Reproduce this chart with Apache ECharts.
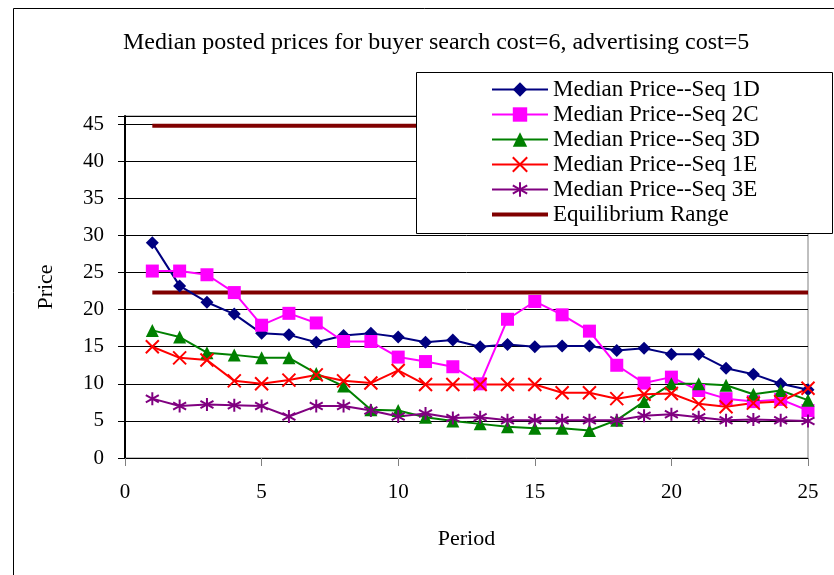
<!DOCTYPE html>
<html>
<head>
<meta charset="utf-8">
<script src="https://cdn.jsdelivr.net/npm/echarts@6/dist/echarts.min.js"></script>
<style>
  html, body { margin: 0; padding: 0; background: #fff; }
  #chart { width: 834px; height: 575px; }
</style>
</head>
<body>
<div id="chart"></div>
<script>
var periods = [1, 2, 3, 4, 5, 6, 7, 8, 9, 10, 11, 12, 13, 14, 15, 16, 17, 18, 19, 20, 21, 22, 23, 24, 25];
var seq1D = [29.0, 23.2, 21.0, 19.4, 16.8, 16.6, 15.6, 16.5, 16.8, 16.3, 15.6, 15.9, 15.0, 15.3, 15.0, 15.1, 15.1, 14.5, 14.8, 14.0, 14.0, 12.1, 11.3, 10.0, 9.2];
var seq2C = [25.2, 25.2, 24.7, 22.3, 17.9, 19.5, 18.2, 15.7, 15.7, 13.6, 13.0, 12.3, 10.0, 18.7, 21.1, 19.3, 17.1, 12.5, 10.1, 10.9, 9.1, 8.0, 7.6, 7.9, 6.4];
var seq3D = [17.2, 16.3, 14.2, 13.9, 13.5, 13.5, 11.4, 9.7, 6.5, 6.4, 5.5, 5.0, 4.6, 4.2, 4.0, 4.0, 3.7, 5.1, 7.6, 10.0, 10.0, 9.8, 8.6, 9.1, 7.8];
var seq1E = [15.0, 13.5, 13.2, 10.4, 10.0, 10.5, 11.2, 10.4, 10.1, 11.8, 9.9, 9.9, 9.9, 9.9, 9.9, 8.8, 8.8, 8.0, 8.6, 8.7, 7.3, 6.9, 7.4, 7.6, 9.4];
var seq3E = [8.0, 7.0, 7.2, 7.1, 7.0, 5.6, 7.0, 7.0, 6.4, 5.6, 6.0, 5.4, 5.5, 5.1, 5.1, 5.1, 5.1, 5.1, 5.7, 5.9, 5.5, 5.1, 5.2, 5.1, 5.0];
var eqPeriods = [1, 25];
var eqUpper = [44.8, 44.8];
var eqLower = [22.3, 22.3];
var yTicks = [0, 5, 10, 15, 20, 25, 30, 35, 40, 45];

var font = "'Liberation Serif', 'Times New Roman', serif";

function pairs(xs, ys) {
  return xs.map(function (x, i) { return [x, ys[i]]; });
}

var crossSym = 'path://M0,0L10,10M10,0L0,10';
var starSym = 'path://M5,0L5,10M0.6,2.2L9.4,7.8M0.6,7.8L9.4,2.2';

function priceSeries(name, values, color, symbol, filled) {
  return {
    name: name,
    type: 'line',
    data: pairs(periods, values),
    symbol: symbol,
    symbolSize: 13,
    showAllSymbol: true,
    lineStyle: { color: color, width: 2 },
    itemStyle: filled
      ? { color: color, borderWidth: 0 }
      : { color: 'rgba(0,0,0,0)', borderColor: color, borderWidth: 2 },
    emphasis: { disabled: true },
    z: 3
  };
}

function eqSeries(values) {
  return {
    name: 'Equilibrium Range',
    type: 'line',
    data: pairs(eqPeriods, values),
    showSymbol: false,
    symbol: 'none',
    lineStyle: { color: '#800000', width: 4 },
    itemStyle: { color: '#800000' },
    emphasis: { disabled: true },
    z: 2
  };
}

var myChart = echarts.init(document.getElementById('chart'));

var option = {
  animation: false,
  backgroundColor: '#fff',
  textStyle: { fontFamily: font, color: '#000' },
  title: {
    text: 'Median posted prices for buyer search cost=6, advertising cost=5',
    left: 118,
    top: 26,
    textStyle: { fontFamily: font, fontSize: 24, fontWeight: 'normal', color: '#000' }
  },
  graphic: [
    {
      type: 'rect',
      shape: { x: 13.5, y: 8.5, width: 900, height: 700 },
      style: { fill: 'none', stroke: '#000', lineWidth: 1 },
      z: 0
    },
    {
      type: 'rect',
      shape: { x: 416.5, y: 72.5, width: 416, height: 161 },
      style: { fill: '#fff', stroke: '#000', lineWidth: 1 },
      z: 10
    }
  ],
  legend: {
    orient: 'vertical',
    left: 491,
    top: 78,
    padding: 0,
    itemWidth: 56,
    itemHeight: 18,
    itemGap: 2,
    z: 20,
    selectedMode: false,
    textStyle: { fontFamily: font, fontSize: 23, color: '#000' },
    data: [
      'Median Price--Seq 1D',
      'Median Price--Seq 2C',
      'Median Price--Seq 3D',
      'Median Price--Seq 1E',
      'Median Price--Seq 3E',
      { name: 'Equilibrium Range', icon: 'path://M0,0L56,0L56,4L0,4Z' }
    ]
  },
  grid: {
    left: 125,
    right: 26,
    top: 116,
    bottom: 117,
    show: true,
    borderColor: '#808080',
    borderWidth: 1,
    backgroundColor: 'transparent'
  },
  xAxis: {
    type: 'value',
    min: 0,
    max: 25,
    interval: 5,
    name: 'Period',
    nameLocation: 'middle',
    nameGap: 70,
    nameTextStyle: { fontFamily: font, fontSize: 22, color: '#000' },
    axisLine: { show: true, onZero: false, lineStyle: { color: '#000', width: 1 } },
    axisTick: { show: true, inside: false, length: 8, lineStyle: { color: '#808080', width: 1 } },
    axisLabel: { margin: 24, fontFamily: font, fontSize: 21, color: '#000' },
    splitLine: { show: false }
  },
  yAxis: {
    type: 'value',
    min: 0,
    max: 46.1,
    interval: 5,
    name: 'Price',
    nameLocation: 'middle',
    nameGap: 68,
    nameTextStyle: { fontFamily: font, fontSize: 22, color: '#000' },
    axisLine: { show: true, onZero: false, lineStyle: { color: '#000', width: 2 } },
    axisTick: { show: true, inside: false, length: 7, lineStyle: { color: '#000', width: 1 } },
    axisLabel: {
      margin: 21,
      fontFamily: font,
      fontSize: 21,
      color: '#000',
      formatter: function (v) { return yTicks.indexOf(v) >= 0 ? String(v) : ''; }
    },
    splitLine: { show: true, lineStyle: { color: '#000', width: 1 } }
  },
  series: [
    priceSeries('Median Price--Seq 1D', seq1D, '#000080', 'diamond', true),
    priceSeries('Median Price--Seq 2C', seq2C, '#FF00FF', 'rect', true),
    priceSeries('Median Price--Seq 3D', seq3D, '#008000', 'triangle', true),
    priceSeries('Median Price--Seq 1E', seq1E, '#FF0000', crossSym, false),
    priceSeries('Median Price--Seq 3E', seq3E, '#800080', starSym, false),
    eqSeries(eqUpper),
    eqSeries(eqLower)
  ]
};

myChart.setOption(option);
</script>
</body>
</html>
